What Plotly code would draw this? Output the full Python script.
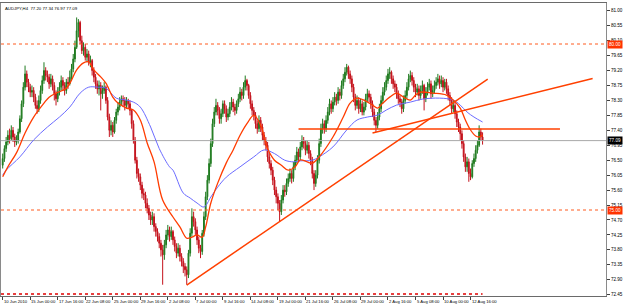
import plotly.graph_objects as go

# ---------------- data ----------------
symbol_header = "AUDJPY,H4  77.20 77.34 76.97 77.09"

x_tick_labels = ["10 Jun 2010", "15 Jun 00:00", "17 Jun 16:00", "22 Jun 08:00", "25 Jun 00:00",
                 "29 Jun 16:00", "2 Jul 08:00", "7 Jul 00:00", "9 Jul 16:00", "14 Jul 08:00",
                 "19 Jul 00:00", "21 Jul 16:00", "26 Jul 08:00", "29 Jul 00:00", "2 Aug 16:00",
                 "5 Aug 08:00", "10 Aug 00:00", "12 Aug 16:00"]
bars_per_label = 16

y_tick_labels = ["72.45", "72.90", "73.35", "73.80", "74.25", "74.70", "75.15", "75.60", "76.05",
                 "76.50", "76.95", "77.40", "77.85", "78.30", "78.75", "79.20", "79.65", "80.10",
                 "80.55", "81.00"]

first_open = 76.35
close = [
    76.55, 76.85, 77.05, 77.25, 77.15, 77.40, 77.20, 77.05, 77.10, 77.35,
    77.75, 78.20, 78.70, 79.10, 78.85, 78.70, 78.55, 78.60, 78.40, 78.15,
    78.05, 78.30, 78.60, 78.90, 79.20, 79.05, 79.00, 78.80, 78.95, 78.75,
    78.50, 78.35, 78.55, 78.70, 78.90, 78.75, 78.60, 78.85, 78.80, 79.00,
    79.25, 79.55, 79.90, 80.40, 80.65, 80.10, 79.80, 79.90, 79.60, 79.70,
    79.45, 79.50, 79.20, 79.00, 78.80, 78.65, 78.75, 78.50, 78.60, 78.70,
    78.30, 77.80, 77.40, 77.55, 77.35, 77.70, 77.95, 78.10, 78.25, 78.35,
    78.30, 78.15, 78.30, 78.20, 78.00, 77.60, 77.10, 76.50, 76.10, 76.00,
    75.75, 75.50, 75.45, 75.20, 75.05, 74.85, 74.70, 74.80, 74.50, 74.35,
    74.20, 74.00, 73.80, 73.65, 73.95, 74.25, 74.40, 74.20, 74.35, 74.10,
    73.90, 73.70, 73.85, 73.60, 73.45, 73.30, 73.20, 73.05, 73.70, 74.30,
    74.80, 74.65, 74.40, 74.10, 73.85, 73.75, 74.30, 74.80, 75.40, 75.90,
    76.40, 77.00, 77.60, 77.95, 78.15, 78.00, 77.75, 77.90, 78.20, 78.05,
    77.80, 77.90, 78.10, 78.25, 78.10, 78.00, 78.20, 78.35, 78.55, 78.45,
    78.70, 78.90, 78.75, 78.45, 78.20, 78.00, 77.85, 77.60, 77.45, 77.70,
    77.50, 77.25, 77.10, 76.95, 76.60, 76.40, 76.20, 75.90, 75.60, 75.40,
    75.20, 74.95, 75.30, 75.60, 75.55, 75.80, 75.95, 76.10, 75.95, 76.30,
    76.50, 76.75, 76.60, 76.90, 77.10, 77.00, 76.80, 76.95, 76.70, 76.50,
    76.10, 75.80, 76.05, 76.50, 77.00, 77.45, 77.60, 77.45, 77.70, 77.95,
    78.20, 78.05, 78.25, 78.40, 78.30, 78.55, 78.45, 78.75, 78.95, 79.15,
    79.30, 79.10, 78.95, 78.70, 78.40, 78.15, 78.30, 78.05, 78.20, 77.95,
    78.10, 78.35, 78.50, 78.40, 78.20, 77.95, 77.70, 77.55, 77.80, 78.05,
    78.30, 78.55, 78.70, 78.90, 79.10, 79.15, 78.95, 78.80, 78.70, 78.50,
    78.35, 78.25, 78.05, 78.30, 78.45, 78.70, 78.95, 79.05, 78.90, 78.70,
    78.55, 78.65, 78.45, 78.60, 78.75, 78.35, 78.55, 78.70, 78.80, 78.50,
    78.60, 78.75, 78.85, 78.95, 78.80, 78.90, 78.70, 78.85, 78.65, 78.45,
    78.30, 78.05, 78.15, 77.90, 77.65, 77.50, 77.30, 77.00, 76.60, 76.30,
    76.45, 76.10, 76.00, 76.40, 76.55, 76.80, 76.95, 77.35, 77.20, 77.09,
]
high = [
    76.70, 76.95, 77.20, 77.40, 77.45, 77.55, 77.50, 77.30, 77.25, 77.45,
    77.85, 78.30, 78.85, 79.35, 79.20, 78.95, 78.80, 78.75, 78.70, 78.50,
    78.30, 78.45, 78.75, 79.05, 79.45, 79.30, 79.20, 79.10, 79.10, 79.05,
    78.85, 78.60, 78.70, 78.85, 79.05, 79.00, 78.85, 78.95, 79.00, 79.20,
    79.40, 79.70, 80.10, 80.80, 80.75, 80.70, 80.25, 80.05, 80.00, 79.85,
    79.80, 79.65, 79.55, 79.30, 79.10, 78.90, 78.90, 78.85, 78.75, 78.85,
    78.75, 78.40, 77.90, 77.70, 77.65, 77.80, 78.05, 78.25, 78.40, 78.45,
    78.45, 78.40, 78.40, 78.35, 78.30, 78.05, 77.70, 77.20, 76.60, 76.25,
    76.10, 75.85, 75.65, 75.55, 75.35, 75.15, 74.95, 74.95, 74.90, 74.60,
    74.45, 74.30, 74.10, 73.95, 74.10, 74.40, 74.55, 74.50, 74.50, 74.40,
    74.20, 74.00, 74.00, 73.95, 73.70, 73.55, 73.40, 73.30, 73.80, 74.45,
    75.05, 74.95, 74.75, 74.50, 74.20, 73.95, 74.40, 74.95, 75.55, 76.05,
    76.55, 77.15, 77.75, 78.10, 78.35, 78.25, 78.10, 78.05, 78.30, 78.30,
    78.15, 78.05, 78.25, 78.40, 78.35, 78.20, 78.30, 78.50, 78.70, 78.65,
    78.85, 79.05, 78.95, 78.80, 78.55, 78.30, 78.10, 77.95, 77.70, 77.85,
    77.80, 77.60, 77.35, 77.20, 77.05, 76.75, 76.50, 76.30, 76.00, 75.70,
    75.50, 75.30, 75.45, 75.75, 75.75, 75.95, 76.10, 76.25, 76.20, 76.45,
    76.65, 76.90, 76.85, 77.05, 77.25, 77.20, 77.10, 77.10, 77.05, 76.80,
    76.60, 76.20, 76.20, 76.65, 77.15, 77.60, 77.75, 77.70, 77.85, 78.10,
    78.35, 78.30, 78.40, 78.55, 78.50, 78.70, 78.65, 78.90, 79.10, 79.30,
    79.40, 79.35, 79.20, 79.05, 78.80, 78.50, 78.45, 78.40, 78.35, 78.30,
    78.25, 78.50, 78.65, 78.60, 78.50, 78.30, 78.05, 77.80, 77.95, 78.20,
    78.45, 78.70, 78.85, 79.05, 79.25, 79.30, 79.20, 79.05, 78.90, 78.80,
    78.60, 78.45, 78.35, 78.45, 78.60, 78.85, 79.10, 79.20, 79.15, 79.00,
    78.80, 78.80, 78.75, 78.75, 78.90, 78.80, 78.70, 78.85, 78.95, 78.90,
    78.75, 78.90, 79.00, 79.10, 79.05, 79.05, 79.00, 78.95, 78.95, 78.75,
    78.55, 78.40, 78.30, 78.25, 78.00, 77.75, 77.60, 77.40, 77.10, 76.70,
    76.60, 76.55, 76.25, 76.50, 76.70, 76.95, 77.10, 77.55, 77.45, 77.34,
]
low = [
    76.25, 76.45, 76.75, 76.95, 77.00, 77.10, 77.05, 76.90, 76.95, 77.00,
    77.30, 77.65, 78.10, 78.60, 78.70, 78.55, 78.40, 78.40, 78.25, 78.05,
    77.90, 77.95, 78.20, 78.50, 78.80, 78.90, 78.85, 78.65, 78.70, 78.60,
    78.30, 78.15, 78.25, 78.45, 78.60, 78.60, 78.45, 78.50, 78.65, 78.75,
    78.90, 79.15, 79.45, 79.85, 80.20, 80.00, 79.70, 79.65, 79.50, 79.45,
    79.35, 79.30, 79.05, 78.85, 78.65, 78.50, 78.45, 78.00, 78.35, 78.50,
    78.20, 77.70, 77.20, 77.25, 77.20, 77.30, 77.60, 77.85, 78.00, 78.15,
    78.10, 78.00, 78.05, 78.05, 77.85, 77.45, 77.00, 76.40, 75.95, 75.85,
    75.60, 75.35, 75.30, 75.05, 74.90, 74.70, 74.55, 74.55, 74.35, 74.20,
    74.05, 73.85, 73.60, 72.75, 73.50, 73.85, 74.10, 74.05, 74.10, 73.95,
    73.75, 73.55, 73.60, 73.45, 73.30, 73.10, 73.00, 72.75, 72.95, 73.60,
    74.20, 74.50, 74.25, 73.95, 73.70, 73.55, 73.65, 74.20, 74.70, 75.30,
    75.80, 76.30, 76.90, 77.50, 77.85, 77.85, 77.60, 77.60, 77.80, 77.90,
    77.65, 77.70, 77.80, 78.00, 77.95, 77.85, 77.90, 78.10, 78.25, 78.30,
    78.35, 78.60, 78.60, 78.35, 78.05, 77.85, 77.70, 77.45, 77.30, 77.35,
    77.35, 77.10, 76.95, 76.80, 76.45, 76.25, 76.05, 75.75, 75.45, 75.20,
    75.00, 74.65, 74.85, 75.20, 75.40, 75.45, 75.70, 75.85, 75.80, 75.85,
    76.20, 76.40, 76.45, 76.50, 76.80, 76.85, 76.65, 76.70, 76.55, 76.35,
    75.95, 75.60, 75.70, 75.95, 76.40, 76.90, 77.30, 77.30, 77.35, 77.60,
    77.85, 77.90, 77.95, 78.15, 78.15, 78.20, 78.30, 78.35, 78.65, 78.85,
    79.05, 78.95, 78.80, 78.55, 78.25, 78.00, 78.05, 77.90, 77.95, 77.85,
    77.85, 78.00, 78.25, 78.25, 78.05, 77.80, 77.55, 77.35, 77.45, 77.70,
    77.95, 78.20, 78.45, 78.60, 78.80, 78.95, 78.80, 78.65, 78.55, 78.35,
    78.20, 78.10, 77.90, 77.95, 78.20, 78.35, 78.60, 78.85, 78.75, 78.55,
    78.40, 78.45, 78.30, 78.35, 78.50, 78.00, 78.25, 78.45, 78.60, 78.35,
    78.40, 78.50, 78.65, 78.75, 78.65, 78.70, 78.55, 78.60, 78.50, 78.30,
    78.15, 77.90, 77.95, 77.75, 77.50, 77.35, 77.10, 76.85, 76.45, 76.15,
    76.15, 75.85, 75.90, 75.95, 76.30, 76.45, 76.70, 76.90, 77.10, 76.97,
]

# fast moving average (red), read at sampled bars
ma_fast_bar = [0, 3, 8, 13, 18, 24, 27, 31, 37, 40, 43, 47, 50, 53, 57, 60, 64, 67, 72, 76, 80, 84, 88,
               93, 99, 103, 107, 110, 113, 116, 118, 121, 125, 130, 134, 138, 142, 146, 150, 154, 158,
               162, 166, 170, 173, 177, 180, 184, 192, 198, 202, 206, 210, 215, 218, 221, 225, 229, 233,
               237, 240, 243, 250, 258, 262, 266, 269, 272, 275, 277, 279]
ma_fast_val = [76.00, 76.30, 76.72, 77.32, 77.80, 78.22, 78.40, 78.52, 78.67, 78.91, 79.22, 79.43, 79.46,
               79.22, 79.01, 78.82, 78.40, 78.22, 78.07, 78.01, 77.71, 77.02, 76.45, 75.30, 74.79, 74.49,
               74.15, 74.18, 74.25, 74.18, 74.49, 75.21, 75.81, 76.42, 76.81, 77.25, 77.60, 77.85, 77.55,
               76.85, 76.50, 76.35, 76.20, 76.30, 76.51, 76.45, 76.41, 76.60, 77.20, 77.80, 78.22, 78.37,
               78.31, 78.16, 78.07, 78.22, 78.40, 78.52, 78.40, 78.31, 78.46, 78.55, 78.52, 78.46, 78.31,
               78.07, 77.71, 77.41, 77.23, 77.20, 77.26]

# slow moving average (blue), read at sampled bars
ma_slow_bar = [0, 2, 10, 18, 26, 33, 39, 45, 50, 55, 60, 66, 72, 76, 80, 86, 91, 97, 99, 105, 109, 113,
               117, 121, 125, 130, 138, 146, 152, 158, 164, 169, 173, 180, 184, 192, 200, 206, 212, 218,
               223, 229, 237, 244, 254, 262, 266, 270, 274, 279]
ma_slow_val = [76.05, 76.20, 76.60, 77.11, 77.50, 77.80, 78.10, 78.52, 78.70, 78.70, 78.67, 78.37, 78.31,
               78.25, 78.10, 77.50, 76.85, 76.30, 76.20, 75.51, 75.36, 75.21, 75.09, 75.39, 75.69, 75.99,
               76.30, 76.60, 76.81, 76.70, 76.50, 76.45, 76.48, 76.50, 76.60, 76.90, 77.41, 77.71, 77.80,
               77.86, 78.01, 78.16, 78.25, 78.34, 78.37, 78.31, 78.16, 77.95, 77.80, 77.65]

# drawn objects: trend lines (bar, price) pairs
trend_long_bar = [107, 282]
trend_long_val = [72.74, 78.94]
trend_upper_bar = [215, 343]
trend_upper_val = [77.32, 78.96]
level_line_bar = [172, 324]
level_line_val = [77.44, 77.44]

dotted_levels = [80.00, 75.00]
bottom_dotted_level = 72.47
bottom_dotted_last_bar = 279
current_price = 77.09

# ---------------- figure ----------------
n = len(close)
bars = list(range(n))
opens = [first_open] + close[:-1]
highs = [max(h, o, c) for h, o, c in zip(high, opens, close)]
lows = [min(l, o, c) for l, o, c in zip(low, opens, close)]

X_RANGE = [-0.99, 350.76]
Y_RANGE = [72.41, 81.235]
ORANGE = "#ff4000"
FONT = "Liberation Sans, Arial, sans-serif"

fig = go.Figure()

# horizontal levels
for lv in dotted_levels:
    fig.add_trace(go.Scatter(x=X_RANGE, y=[lv, lv], mode="lines",
                             line=dict(color="#ff5a1f", width=1, dash="dot"), hoverinfo="skip"))
fig.add_trace(go.Scatter(x=[X_RANGE[0], bottom_dotted_last_bar], y=[bottom_dotted_level] * 2, mode="lines",
                         line=dict(color="#e00000", width=1.5, dash="dot"), hoverinfo="skip"))
fig.add_trace(go.Scatter(x=X_RANGE, y=[current_price, current_price], mode="lines",
                         line=dict(color="#a8a8a8", width=1), hoverinfo="skip"))

fig.add_trace(go.Candlestick(
    x=bars, open=opens, high=highs, low=lows, close=close,
    increasing=dict(line=dict(color="#1f7a1f", width=1), fillcolor="#2a8a2a"),
    decreasing=dict(line=dict(color="#c4121c", width=1), fillcolor="#c4121c"),
    whiskerwidth=0, hoverinfo="skip"))

fig.add_trace(go.Scatter(x=ma_slow_bar, y=ma_slow_val, mode="lines",
                         line=dict(color="#6b6bff", width=1, shape="spline", smoothing=1.0), hoverinfo="skip"))
fig.add_trace(go.Scatter(x=ma_fast_bar, y=ma_fast_val, mode="lines",
                         line=dict(color="#ff3c00", width=1.3, shape="spline", smoothing=1.0), hoverinfo="skip"))

for bx, by in [(trend_long_bar, trend_long_val), (trend_upper_bar, trend_upper_val),
               (level_line_bar, level_line_val)]:
    fig.add_trace(go.Scatter(x=bx, y=by, mode="lines", line=dict(color=ORANGE, width=1.5), hoverinfo="skip"))

annotations = []
for k, lab in enumerate(x_tick_labels):
    annotations.append(dict(x=k * bars_per_label, y=0, xref="x", yref="paper", text=lab, showarrow=False,
                            xanchor="left", yanchor="top", yshift=-1, xshift=-1,
                            font=dict(size=4.2, color="#000000", family=FONT)))
annotations.append(dict(x=0, y=1, xref="paper", yref="paper", text=symbol_header, showarrow=False,
                        xanchor="left", yanchor="top", xshift=2, yshift=-1,
                        font=dict(size=4.3, color="#000000", family=FONT)))
for lv in dotted_levels:
    annotations.append(dict(x=1, y=lv, xref="paper", yref="y", text=f"{lv:.2f}", showarrow=False,
                            xanchor="left", yanchor="middle", xshift=1, bgcolor="#ff3300", borderpad=1,
                            font=dict(size=4.6, color="#ffffff", family=FONT)))
annotations.append(dict(x=1, y=current_price, xref="paper", yref="y", text=f"{current_price:.2f}",
                        showarrow=False, xanchor="left", yanchor="middle", xshift=1, bgcolor="#000000",
                        borderpad=1, font=dict(size=4.6, color="#ffffff", family=FONT)))

fig.update_layout(
    width=625, height=305,
    margin=dict(l=1, r=19, t=3, b=9),
    paper_bgcolor="#ffffff", plot_bgcolor="#ffffff",
    showlegend=False,
    annotations=annotations,
    xaxis=dict(range=X_RANGE, tickvals=[k * bars_per_label for k in range(len(x_tick_labels))],
               ticktext=[""] * len(x_tick_labels), ticks="outside", ticklen=3, tickcolor="#404040",
               showgrid=False, zeroline=False, showline=True, mirror=True, linecolor="#6a6a6a",
               linewidth=1, rangeslider=dict(visible=False), fixedrange=True),
    yaxis=dict(range=Y_RANGE, side="right", tickvals=[float(t) for t in y_tick_labels],
               ticktext=y_tick_labels, ticks="outside", ticklen=3, tickcolor="#404040",
               tickfont=dict(size=4.6, color="#000000", family=FONT),
               showgrid=False, zeroline=False, showline=True, mirror=True, linecolor="#8a8a8a",
               linewidth=1, fixedrange=True, automargin=False),
    hovermode=False,
)

fig.write_html("out.html", config={"displayModeBar": False})
